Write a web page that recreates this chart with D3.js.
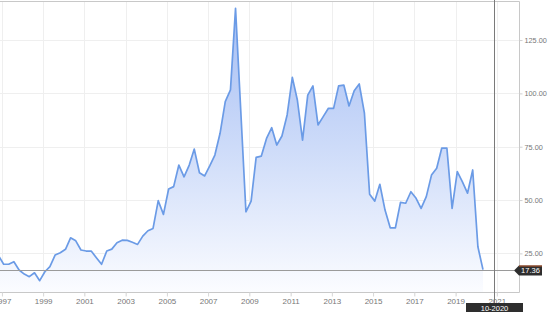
<!DOCTYPE html>
<html>
<head>
<meta charset="utf-8">
<script src="https://cdn.jsdelivr.net/npm/d3@7"></script>
<style>
  body { margin: 0; background: #fff; }
  svg { display: block; font-family: "Liberation Sans", Arial, sans-serif; }
</style>
</head>
<body>
<svg class="chart"></svg>
<script>
/**
 * Data: quarterly readings
 */
const quarters = [
  "1996-11",
  "1997-02", "1997-05", "1997-08", "1997-11",
  "1998-02", "1998-05", "1998-08", "1998-11",
  "1999-02", "1999-05", "1999-08", "1999-11",
  "2000-02", "2000-05", "2000-08", "2000-11",
  "2001-02", "2001-05", "2001-08", "2001-11",
  "2002-02", "2002-05", "2002-08", "2002-11",
  "2003-02", "2003-05", "2003-08", "2003-11",
  "2004-02", "2004-05", "2004-08", "2004-11",
  "2005-02", "2005-05", "2005-08", "2005-11",
  "2006-02", "2006-05", "2006-08", "2006-11",
  "2007-02", "2007-05", "2007-08", "2007-11",
  "2008-02", "2008-05", "2008-08", "2008-11",
  "2009-02", "2009-05", "2009-08", "2009-11",
  "2010-02", "2010-05", "2010-08", "2010-11",
  "2011-02", "2011-05", "2011-08", "2011-11",
  "2012-02", "2012-05", "2012-08", "2012-11",
  "2013-02", "2013-05", "2013-08", "2013-11",
  "2014-02", "2014-05", "2014-08", "2014-11",
  "2015-02", "2015-05", "2015-08", "2015-11",
  "2016-02", "2016-05", "2016-08", "2016-11",
  "2017-02", "2017-05", "2017-08", "2017-11",
  "2018-02", "2018-05", "2018-08", "2018-11",
  "2019-02", "2019-05", "2019-08", "2019-11",
  "2020-02", "2020-05"
];
const prices = [
  24.0,
  19.9, 19.9, 21.1, 17.2,
  15.3, 14.1, 15.9, 12.2,
  16.4, 18.8, 24.2, 25.3,
  26.9, 32.3, 30.9, 26.6,
  26.1, 26.1, 23.0, 19.9,
  26.1, 27.0, 30.0, 31.2,
  31.1, 30.2, 29.2, 33.1,
  35.6, 36.7, 49.7, 43.3,
  55.2, 56.3, 66.4, 60.9,
  66.4, 73.9, 62.8, 61.3,
  66.1, 71.1, 81.3, 96.1,
  101.6, 139.9, 92.2, 44.5,
  49.5, 70.0, 70.6, 78.9,
  83.9, 75.8, 80.0, 89.9,
  107.5, 96.9, 78.1, 99.2,
  103.5, 85.2, 89.1, 93.0,
  93.0, 103.5, 103.9, 94.1,
  101.2, 104.4, 90.7, 52.7,
  49.5, 57.4, 45.3, 37.0,
  37.0, 48.9, 48.5, 53.9,
  50.8, 46.1, 51.6, 61.7,
  64.9, 74.3, 74.3, 46.1,
  63.3, 58.6, 53.2, 64.1,
  28.1, 17.36
];
const yearTicks = [1997, 1999, 2001, 2003, 2005, 2007, 2009, 2011, 2013, 2015, 2017, 2019, 2021];
const valueTicks = [25, 50, 75, 100, 125];
const lastValue = 17.36;
const cursorLabel = "10-2020";

const parseMonth = d3.timeParse("%Y-%m");
const data = quarters.map((q, i) => ({ date: parseMonth(q), value: prices[i] }));

/**
 * Sizes
 */
const width = 557,
  height = 320,
  plotLeft = 0,
  plotRight = 519,
  plotTop = 1,
  plotBottom = 292;

const svg = d3.select(".chart").attr("width", width).attr("height", height);

/**
 * Scales
 */
const xScale = d3
  .scaleTime()
  .domain([new Date(1996, 10, 28), new Date(2022, 0, 29)])
  .range([plotLeft, plotRight]);

const yScale = d3
  .scaleLinear()
  .domain([6.9, 143.3])
  .range([plotBottom, plotTop]);

const defs = svg.append("defs");
defs
  .append("clipPath")
  .attr("id", "plot-clip")
  .append("rect")
  .attr("x", plotLeft)
  .attr("y", plotTop)
  .attr("width", plotRight - plotLeft)
  .attr("height", plotBottom - plotTop);

const grad = defs
  .append("linearGradient")
  .attr("id", "area-fill")
  .attr("gradientUnits", "userSpaceOnUse")
  .attr("x1", 0)
  .attr("y1", 0)
  .attr("x2", 0)
  .attr("y2", plotBottom);
grad.append("stop").attr("offset", 0).attr("stop-color", "#a3bcf3");
grad.append("stop").attr("offset", 0.5).attr("stop-color", "#cddbf9");
grad.append("stop").attr("offset", 1).attr("stop-color", "#fbfcff");

/**
 * Grid lines
 */
svg
  .append("g")
  .selectAll("line")
  .data(valueTicks)
  .enter()
  .append("line")
  .attr("x1", plotLeft)
  .attr("x2", plotRight)
  .attr("y1", d => Math.round(yScale(d)) + 0.5)
  .attr("y2", d => Math.round(yScale(d)) + 0.5)
  .attr("stroke", "#efefef");

svg
  .append("g")
  .selectAll("line")
  .data(yearTicks)
  .enter()
  .append("line")
  .attr("x1", d => Math.round(xScale(new Date(d, 0, 1))) + 0.5)
  .attr("x2", d => Math.round(xScale(new Date(d, 0, 1))) + 0.5)
  .attr("y1", plotTop)
  .attr("y2", plotBottom + 4)
  .attr("stroke", "#efefef");

/**
 * Area and line
 */
const plot = svg.append("g").attr("clip-path", "url(#plot-clip)");

const area = d3
  .area()
  .x(d => xScale(d.date))
  .y0(plotBottom)
  .y1(d => yScale(d.value));

const line = d3
  .line()
  .x(d => xScale(d.date))
  .y(d => yScale(d.value));

plot.append("path").datum(data).attr("d", area).attr("fill", "url(#area-fill)");
plot
  .append("path")
  .datum(data)
  .attr("d", line)
  .attr("fill", "none")
  .attr("stroke", "#6b9be6")
  .attr("stroke-width", 1.7)
  .attr("stroke-linejoin", "round");

/**
 * Frame
 */
svg
  .append("path")
  .attr("d", `M${plotLeft},${plotTop + 0.5}H${plotRight + 0.5}V${plotBottom + 0.5}H${plotLeft}`)
  .attr("fill", "none")
  .attr("stroke", "#c8c8c8");

/**
 * Axes (labels only, drawn by d3 axes)
 */
const yAxis = d3
  .axisRight(yScale)
  .tickValues(valueTicks)
  .tickSize(3)
  .tickPadding(2)
  .tickFormat(d3.format(".2f"));

const yAxisG = svg
  .append("g")
  .attr("transform", `translate(${plotRight + 0.5},0)`)
  .call(yAxis);
yAxisG.select(".domain").remove();
yAxisG.selectAll("line").attr("stroke", "#d0d0d0");
yAxisG
  .selectAll("text")
  .attr("fill", "#777")
  .style("font-size", "7.3px")
  .style("font-family", "'Liberation Sans', Arial, sans-serif");

const xAxis = d3
  .axisBottom(xScale)
  .tickValues(yearTicks.map(y => new Date(y, 0, 1)))
  .tickSize(4)
  .tickPadding(2)
  .tickFormat(d3.timeFormat("%Y"));

const xAxisG = svg
  .append("g")
  .attr("transform", `translate(0,${plotBottom + 0.5})`)
  .call(xAxis);
xAxisG.select(".domain").remove();
xAxisG.selectAll("line").attr("stroke", "#d8d8d8");
xAxisG
  .selectAll("text")
  .attr("fill", "#777")
  .style("font-size", "8px")
  .style("font-family", "'Liberation Sans', Arial, sans-serif");

/**
 * Last value marker
 */
const lastY = Math.round(yScale(lastValue)) + 0.5;
svg
  .append("line")
  .attr("x1", plotLeft)
  .attr("x2", plotRight - 5)
  .attr("y1", lastY)
  .attr("y2", lastY)
  .attr("stroke", "#9a9a9a");

svg
  .append("path")
  .attr("d", `M${plotRight - 5},${lastY}L${plotRight},${lastY - 5}H${plotRight + 23}V${lastY + 5}H${plotRight}Z`)
  .attr("fill", "#2e2e2e");
svg
  .append("line")
  .attr("x1", plotRight)
  .attr("x2", plotRight + 23)
  .attr("y1", lastY - 4.5)
  .attr("y2", lastY - 4.5)
  .attr("stroke", "#b8582c");
svg
  .append("text")
  .attr("x", plotRight + 11.5)
  .attr("y", lastY + 2.7)
  .attr("text-anchor", "middle")
  .attr("fill", "#fff")
  .style("font-size", "7.5px")
  .text(lastValue.toFixed(2));

/**
 * Cursor line and date label
 */
const cursorX = Math.round(xScale(new Date(2020, 10, 20))) + 0.5;
svg
  .append("line")
  .attr("x1", cursorX)
  .attr("x2", cursorX)
  .attr("y1", 0)
  .attr("y2", 303)
  .attr("stroke", "#7a7a7a");

svg
  .append("rect")
  .attr("x", cursorX - 28.5)
  .attr("y", 303)
  .attr("width", 57)
  .attr("height", 9)
  .attr("fill", "#2e2e2e");
svg
  .append("text")
  .attr("x", cursorX)
  .attr("y", 310.5)
  .attr("text-anchor", "middle")
  .attr("fill", "#fff")
  .style("font-size", "7.5px")
  .text(cursorLabel);
</script>
</body>
</html>
